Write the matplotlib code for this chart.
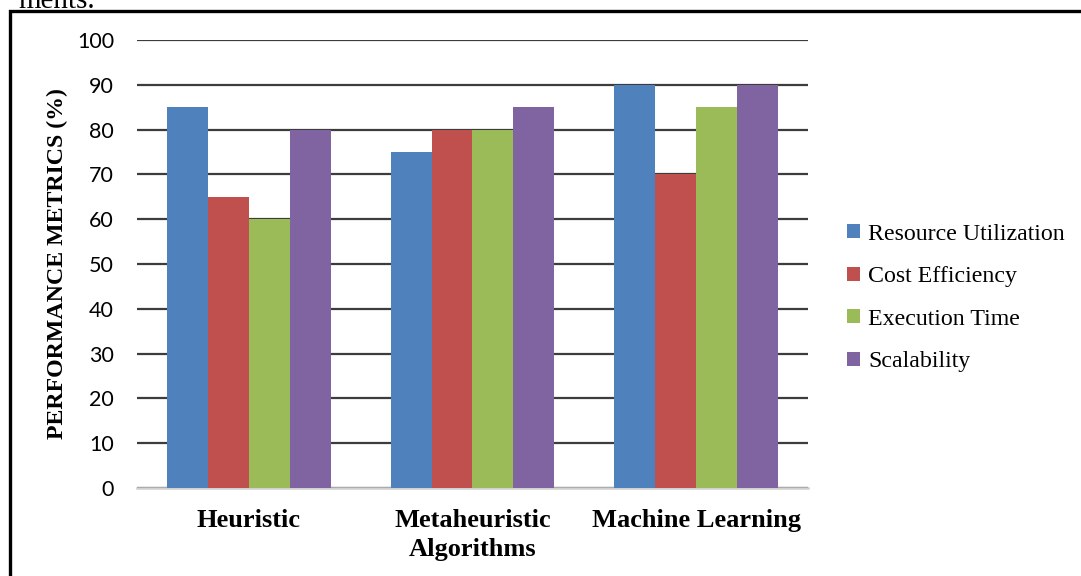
import numpy as np
import matplotlib.pyplot as plt
from matplotlib.patches import Rectangle

# categories and scores (%)
categories = ['Heuristic', 'Metaheuristic\nAlgorithms', 'Machine Learning']
series = ['Resource Utilization', 'Cost Efficiency', 'Execution Time', 'Scalability']
resource_util = [85, 75, 90]
cost_eff = [65, 80, 70]
exec_time = [60, 80, 85]
scalability = [80, 85, 90]
colors = ['#4F81BD', '#C0504D', '#9BBB59', '#8064A2']

W, H = 1081, 576
fig = plt.figure(figsize=(W / 100, H / 100), dpi=100)
ax = fig.add_axes([137 / W, 1 - 488 / H, (808 - 137) / W, (488 - 40) / H])

x = np.arange(len(categories))
bw = 0.183
values = [resource_util, cost_eff, exec_time, scalability]
for i, (vals, name, c) in enumerate(zip(values, series, colors)):
    ax.bar(x + (i - 1.5) * bw, vals, bw, color=c, label=name, zorder=3)

ax.set_xlim(-0.5, 2.5)
ax.set_ylim(0, 100)
ax.set_yticks(np.arange(0, 101, 10))
ax.yaxis.grid(True, color='#3c3c3c', linewidth=1.6, zorder=0)
ax.set_axisbelow(True)
for s in ['top', 'right', 'left']:
    ax.spines[s].set_visible(False)
ax.spines['bottom'].set_color('#d0d0d0')
ax.spines['bottom'].set_linewidth(1.8)
ax.tick_params(axis='both', length=0)
ax.tick_params(axis='y', pad=16.5)

for lab in ax.get_yticklabels():
    lab.set_fontfamily('Lato')
    lab.set_fontsize(15.5)
ax.set_xticks(x)
ax.set_xticklabels(categories, fontfamily='Liberation Serif', fontweight='bold',
                   fontsize=19, linespacing=1.33)
ax.tick_params(axis='x', pad=15)

fig.text(57 / W, 1 - 264 / H, 'PERFORMANCE METRICS (%)', rotation=90,
         ha='center', va='center', fontfamily='Liberation Serif',
         fontweight='bold', fontsize=17.2)

leg = ax.legend(loc='center left', bbox_to_anchor=(825 / W, 1 - 298 / H),
                bbox_transform=fig.transFigure, frameon=False,
                prop={'family': 'Liberation Serif', 'size': 17.2},
                handlelength=0.55, handleheight=0.55, handletextpad=0.35,
                labelspacing=0.9)

# frame around the chart and the clipped line of text above it
fig.patches.append(Rectangle((10 / W, -0.1), 1.2, 1 - 11 / H + 0.1,
                             transform=fig.transFigure, fill=False,
                             edgecolor='black', linewidth=2.4))
fig.text(95 / W, 1 - 8 / H, 'ments.', ha='right', va='baseline',
         fontfamily='Liberation Serif', fontsize=21)

fig.savefig('out.png', dpi=100)
